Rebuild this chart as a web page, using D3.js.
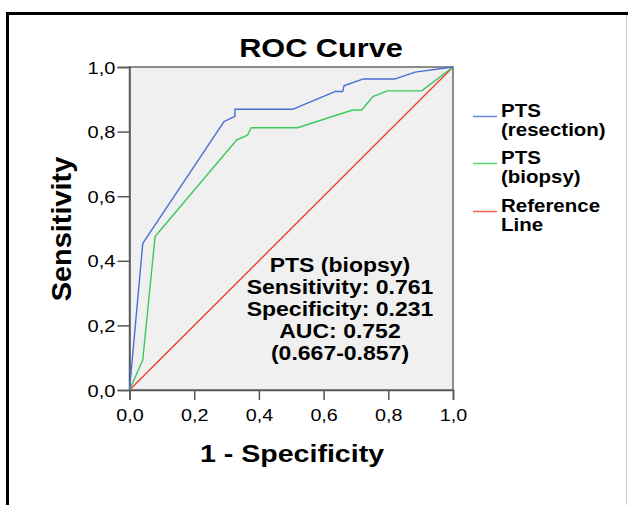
<!DOCTYPE html>
<html>
<head>
<meta charset="utf-8">
<script src="https://cdn.jsdelivr.net/npm/d3@7"></script>
<style>
  html, body { margin: 0; padding: 0; background: #fff; }
  svg { display: block; }
  text { font-family: "Liberation Sans", Arial, sans-serif; fill: #000; }
</style>
</head>
<body>
<script>
// ---- data ----
const seriesNames = ["PTS (resection)", "PTS (biopsy)", "Reference Line"];
const legendLines = [["PTS", "(resection)"], ["PTS", "(biopsy)"], ["Reference", "Line"]];
const resectionFPR = [0, 0.041, 0.292, 0.311, 0.326, 0.326, 0.504, 0.635, 0.659, 0.663, 0.723, 0.821, 0.883, 1];
const resectionTPR = [0, 0.454, 0.831, 0.840, 0.847, 0.869, 0.869, 0.924, 0.924, 0.942, 0.963, 0.963, 0.984, 1];
const biopsyFPR = [0, 0.041, 0.079, 0.331, 0.365, 0.376, 0.519, 0.690, 0.718, 0.752, 0.797, 0.903, 1];
const biopsyTPR = [0, 0.093, 0.475, 0.774, 0.789, 0.812, 0.812, 0.867, 0.867, 0.908, 0.926, 0.926, 1];
const referenceFPR = [0, 1];
const referenceTPR = [0, 1];
const tickValues = [0, 0.2, 0.4, 0.6, 0.8, 1.0];
const tickLabels = ["0,0", "0,2", "0,4", "0,6", "0,8", "1,0"];
const annotationLines = ["PTS (biopsy)", "Sensitivity: 0.761", "Specificity: 0.231", "AUC: 0.752", "(0.667-0.857)"];
const titleText = "ROC Curve";
const xLabel = "1 - Specificity";
const yLabel = "Sensitivity";
const colors = ["#4a6dd6", "#3dc95a", "#f2402e"];

// ---- layout ----
const W = 628, H = 505;
const plot = { left: 129.5, right: 453, top: 67, bottom: 390 };

const svg = d3.select("body").append("svg").attr("width", W).attr("height", H);

function stretch(sel, k) {
  sel.each(function () {
    const w = this.getComputedTextLength();
    this.setAttribute("textLength", w * k);
    this.setAttribute("lengthAdjust", "spacingAndGlyphs");
  });
}

// outer frame
svg.append("line").attr("x1", 7.5).attr("x2", 7.5).attr("y1", 12).attr("y2", H)
  .attr("stroke", "#000").attr("stroke-width", 3);
svg.append("line").attr("x1", 6).attr("x2", W).attr("y1", 13.5).attr("y2", 13.5)
  .attr("stroke", "#000").attr("stroke-width", 3);
svg.append("line").attr("x1", 626.5).attr("x2", 626.5).attr("y1", 15).attr("y2", H)
  .attr("stroke", "#d0d0d0").attr("stroke-width", 1);

const x = d3.scaleLinear().domain([0, 1]).range([plot.left, plot.right]);
const y = d3.scaleLinear().domain([0, 1]).range([plot.bottom, plot.top]);

// plot background
svg.append("rect")
  .attr("x", x(0)).attr("y", y(1))
  .attr("width", x(1) - x(0)).attr("height", y(0) - y(1))
  .attr("fill", "#f0f0f0")
  .attr("stroke", "#6a6a6a").attr("stroke-width", 1.5);

// axes
const fmt = v => tickLabels[tickValues.findIndex(t => Math.abs(t - v) < 1e-9)];
const xAxis = svg.append("g").attr("transform", `translate(0,${plot.bottom})`)
  .call(d3.axisBottom(x).tickValues(tickValues).tickFormat(fmt).tickSize(10).tickPadding(4));
const yAxis = svg.append("g").attr("transform", `translate(${plot.left},0)`)
  .call(d3.axisLeft(y).tickValues(tickValues).tickFormat(fmt).tickSize(12).tickPadding(2));
[xAxis, yAxis].forEach(g => {
  g.select(".domain").attr("stroke", "#555").attr("stroke-width", 1.5);
  g.selectAll(".tick line").attr("stroke", "#555").attr("stroke-width", 1.5);
  g.selectAll(".tick text")
    .style("font-family", '"Liberation Sans", Arial, sans-serif')
    .style("font-size", "17px").attr("fill", "#111");
});
xAxis.selectAll(".tick text").attr("dy", "1.0em");
yAxis.selectAll(".tick text").attr("dy", "0.36em");
stretch(xAxis.selectAll(".tick text"), 1.16);
stretch(yAxis.selectAll(".tick text"), 1.18);

// curves
const line = d3.line().x(d => x(d[0])).y(d => y(d[1]));
const seriesData = [
  d3.zip(resectionFPR, resectionTPR),
  d3.zip(biopsyFPR, biopsyTPR),
  d3.zip(referenceFPR, referenceTPR)
];
const drawOrder = [2, 1, 0];
drawOrder.forEach(i => {
  svg.append("path").datum(seriesData[i])
    .attr("d", line)
    .attr("fill", "none")
    .attr("stroke", colors[i])
    .attr("stroke-width", 1.4)
    .attr("stroke-linejoin", "round");
});

// title
const title = svg.append("text").attr("x", 321).attr("y", 57)
  .attr("text-anchor", "middle").style("font-size", "26px").style("font-weight", "bold")
  .text(titleText);
stretch(title, 1.18);

// axis titles
const xt = svg.append("text").attr("x", 292).attr("y", 462)
  .attr("text-anchor", "middle").style("font-size", "24px").style("font-weight", "bold")
  .text(xLabel);
stretch(xt, 1.19);
const yt = svg.append("text").attr("transform", "translate(71,229) rotate(-90)")
  .attr("text-anchor", "middle").style("font-size", "27px").style("font-weight", "bold")
  .text(yLabel);
stretch(yt, 1.07);

// annotation
annotationLines.forEach((t, i) => {
  const tx = svg.append("text").attr("x", 340).attr("y", 271.5 + i * 22)
    .attr("text-anchor", "middle").style("font-size", "20px").style("font-weight", "bold")
    .text(t);
  stretch(tx, 1.15);
});

// legend
const legendBase = [116.5, 163.5, 211.5];
legendLines.forEach((pair, i) => {
  const by = legendBase[i];
  svg.append("line").attr("x1", 473).attr("x2", 497).attr("y1", by).attr("y2", by)
    .attr("stroke", colors[i]).attr("stroke-width", 1.6).attr("opacity", 0.8);
  pair.forEach((t, j) => {
    const tx = svg.append("text").attr("x", 501).attr("y", by + j * 19.5)
      .style("font-size", "17.5px").style("font-weight", "bold").text(t);
    stretch(tx, 1.17);
  });
});
</script>
</body>
</html>
